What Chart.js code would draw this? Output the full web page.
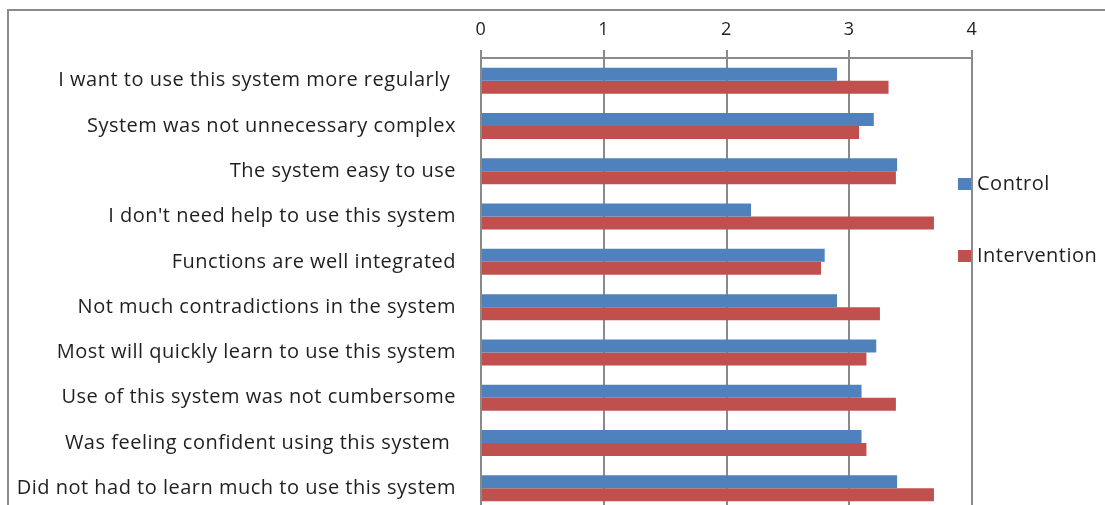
<!DOCTYPE html>
<html lang="en">
<head>
    <meta charset="UTF-8" />
    <title>System Usability Scores</title>
    <script src="https://cdn.jsdelivr.net/npm/chart.js"></script>
    <style>
        html, body { margin: 0; padding: 0; background: #fff; overflow: hidden; }
        #wrap { width: 1105px; height: 505px; overflow: hidden; }
    </style>
</head>
<body>
    <div id="wrap">
        <canvas id="susChart" width="1105" height="513"></canvas>
    </div>
    <script>
    // questionnaire items, top to bottom
    const statements = [
        "I want to use this system more regularly ",
        "System was not unnecessary complex",
        "The system easy to use",
        "I don't need help to use this system",
        "Functions are well integrated",
        "Not much contradictions in the system",
        "Most will quickly learn to use this system",
        "Use of this system was not cumbersome",
        "Was feeling confident using this system ",
        "Did not had to learn much to use this system"
    ];
    const controlScores = [2.90, 3.20, 3.39, 2.20, 2.80, 2.90, 3.22, 3.10, 3.10, 3.39];
    const interventionScores = [3.32, 3.08, 3.38, 3.69, 2.77, 3.25, 3.14, 3.38, 3.14, 3.69];
    const scoreTicks = [0, 1, 2, 3, 4];

    const FAMILY = "'Open Sans', sans-serif";
    const LABEL_FONT = { family: FAMILY, size: 20 };
    const TICK_FONT = { family: FAMILY, size: 18 };
    const TEXT = '#1f1f1f';
    const GRID = '#8a8a8a';

    // outer chart frame (top and left edges only show)
    const framePlugin = {
        id: 'frame',
        beforeDraw(chart) {
            const c = chart.ctx;
            c.letterSpacing = '0.5px';
            c.save();
            c.strokeStyle = GRID;
            c.lineWidth = 2;
            c.beginPath();
            c.moveTo(8, chart.height + 5);
            c.lineTo(8, 10);
            c.lineTo(chart.width + 5, 10);
            c.stroke();
            c.restore();
        }
    };

    // legend drawn beside the plot, squares sitting against the last gridline
    const sideLegend = {
        id: 'sideLegend',
        afterDraw(chart) {
            const c = chart.ctx;
            const right = chart.chartArea.right;
            const rows = [184, 256];
            c.save();
            c.font = `${LABEL_FONT.size}px ${FAMILY}`;
            c.textBaseline = 'middle';
            chart.data.datasets.forEach((ds, i) => {
                const y = rows[i];
                c.fillStyle = ds.backgroundColor;
                c.fillRect(right - 14, y - 6, 13, 12);
                c.fillStyle = TEXT;
                c.fillText(ds.label, right + 5, y);
            });
            c.restore();
        }
    };

    new Chart(document.getElementById('susChart'), {
        type: 'bar',
        data: {
            labels: statements,
            datasets: [
                { label: 'Control', data: controlScores, backgroundColor: '#4F81BD' },
                { label: 'Intervention', data: interventionScores, backgroundColor: '#C0504D' }
            ]
        },
        options: {
            indexAxis: 'y',
            responsive: false,
            animation: false,
            devicePixelRatio: 1,
            categoryPercentage: 0.574,
            barPercentage: 1,
            layout: { padding: { top: 12, left: 10, right: 133, bottom: 2 } },
            plugins: {
                legend: { display: false },
                tooltip: { enabled: false }
            },
            scales: {
                x: {
                    position: 'top',
                    min: 0,
                    max: 4,
                    afterBuildTicks(axis) {
                        axis.ticks = scoreTicks.map(v => ({ value: v }));
                    },
                    afterFit(axis) { axis.height = 46; },
                    grid: { color: GRID, lineWidth: 2, tickLength: 8 },
                    border: { color: GRID, width: 2 },
                    ticks: { color: TEXT, font: TICK_FONT, padding: 9 }
                },
                y: {
                    afterFit(axis) {
                        axis.width = 471;
                        axis.paddingTop = 0;
                        axis.paddingBottom = 0;
                    },
                    grid: { display: false, tickLength: 0 },
                    border: { color: GRID, width: 2 },
                    ticks: { color: TEXT, font: LABEL_FONT, padding: 25, autoSkip: false }
                }
            }
        },
        plugins: [framePlugin, sideLegend]
    });
    </script>
</body>
</html>
